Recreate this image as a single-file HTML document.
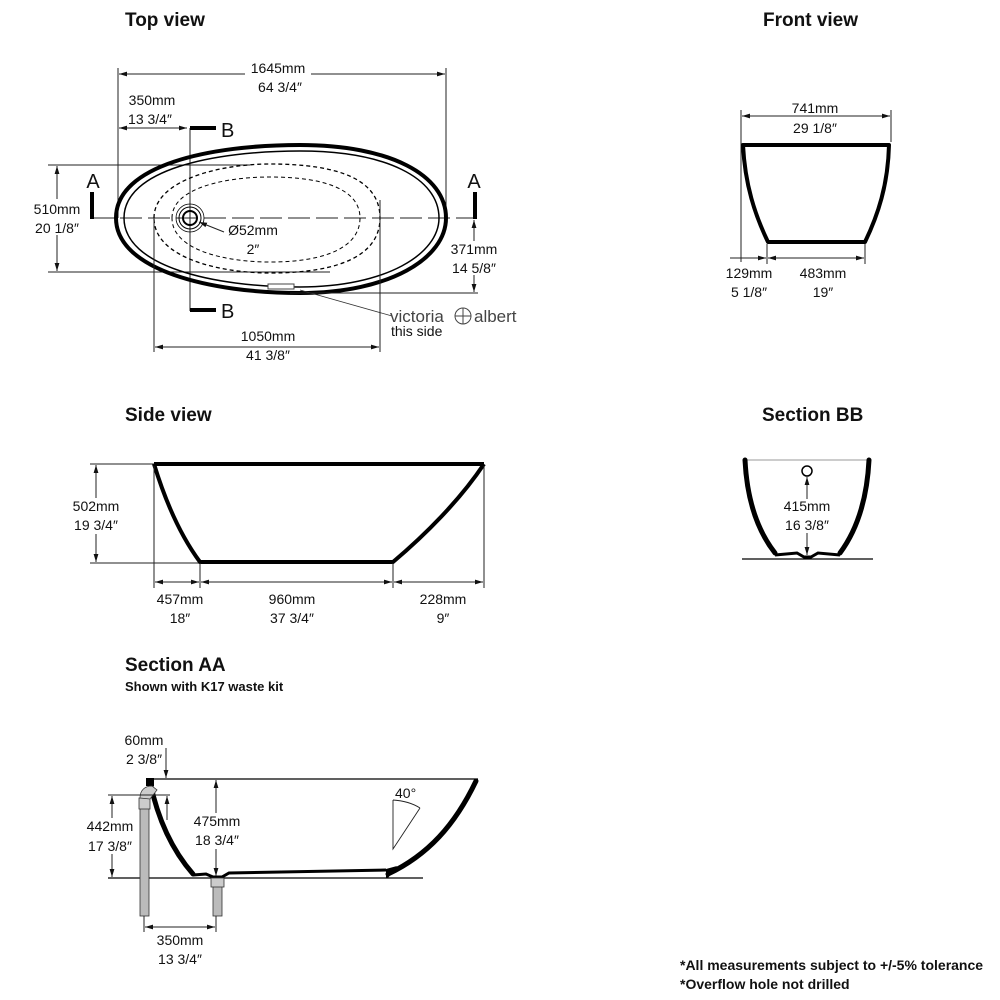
<!DOCTYPE html>
<html><head><meta charset="utf-8"><style>
html,body{margin:0;padding:0;background:#fff}
svg{display:block}
text{font-family:"Liberation Sans Narrow","Liberation Sans",sans-serif;font-size:14px;fill:#111}
.t{font-weight:bold;font-size:19px}
.c{text-anchor:middle}
.d{stroke:#222;stroke-width:1;fill:none}
.k{stroke:#000;stroke-width:4;fill:none}
.bg{fill:#fff}
</style></head><body>
<svg width="1000" height="1000" viewBox="0 0 1000 1000" xmlns="http://www.w3.org/2000/svg">
<defs>
<marker id="a" viewBox="0 0 10 10" refX="10" refY="5" markerWidth="8" markerHeight="8" orient="auto-start-reverse"><path d="M0,2 L10,5 L0,8z" fill="#111"/></marker>
</defs>

<!-- TOP VIEW -->
<text class="t" x="125" y="26">Top view</text>
<line class="d" x1="118" y1="68" x2="118" y2="218"/>
<line class="d" x1="446" y1="68" x2="446" y2="218"/>
<line class="d" x1="119" y1="74" x2="445" y2="74" marker-start="url(#a)" marker-end="url(#a)"/>
<rect class="bg" x="245" y="62" width="66" height="16"/>
<text class="c" x="278" y="73">1645mm</text>
<text class="c" x="280" y="92">64 3/4″</text>
<text class="c" x="152" y="105">350mm</text>
<text class="c" x="150" y="124">13 3/4″</text>
<line class="d" x1="119" y1="128" x2="187" y2="128" marker-start="url(#a)" marker-end="url(#a)"/>
<line class="d" x1="190" y1="128" x2="190" y2="311"/>
<line x1="190" y1="128" x2="216" y2="128" stroke="#000" stroke-width="4"/>
<line x1="190" y1="310" x2="216" y2="310" stroke="#000" stroke-width="4"/>
<text x="221" y="137" style="font-size:20px">B</text>
<text x="221" y="318" style="font-size:20px">B</text>
<line class="d" x1="48" y1="165" x2="250" y2="165"/>
<line class="d" x1="48" y1="272" x2="330" y2="272"/>
<line class="d" x1="57" y1="166" x2="57" y2="271" marker-start="url(#a)" marker-end="url(#a)"/>
<rect class="bg" x="28" y="199" width="58" height="36"/>
<text class="c" x="57" y="214">510mm</text>
<text class="c" x="57" y="233">20 1/8″</text>
<line class="d" x1="92" y1="218" x2="476" y2="218" stroke-dasharray="22,6"/>
<line x1="92" y1="192" x2="92" y2="219" stroke="#000" stroke-width="4"/>
<line x1="475" y1="192" x2="475" y2="219" stroke="#000" stroke-width="4"/>
<text class="c" x="93" y="188" style="font-size:20px">A</text>
<text class="c" x="474" y="188" style="font-size:20px">A</text>
<path class="k" d="M116,218 C116,165 210,145 300,145 C390,145 446,175 446,218 C446,258 390,293 300,293 C210,293 116,270 116,218Z" stroke-width="3"/>
<path d="M124,218 C124,170 212,151 300,151 C386,151 439,178 439,218 C439,254 386,287 300,287 C212,287 124,266 124,218Z" fill="none" stroke="#000" stroke-width="1.5"/>
<path d="M154,218 C154,180 220,164 270,164 C340,164 380,180 380,218 C380,255 340,273 270,273 C220,273 154,258 154,218Z" fill="none" stroke="#000" stroke-width="1.3" stroke-dasharray="4,3"/>
<path d="M172,218 C172,188 225,177 270,177 C330,177 360,192 360,218 C360,245 330,262 270,262 C225,262 172,250 172,218Z" fill="none" stroke="#000" stroke-width="1" stroke-dasharray="4,3"/>
<circle cx="190" cy="218" r="7" fill="none" stroke="#000" stroke-width="2"/>
<circle cx="190" cy="218" r="11" fill="none" stroke="#000" stroke-width="1"/>
<circle cx="190" cy="218" r="14" fill="none" stroke="#000" stroke-width="0.8"/>
<line class="d" x1="224" y1="232" x2="199" y2="222" marker-end="url(#a)"/>
<text class="c" x="253" y="235">Ø52mm</text>
<text class="c" x="253" y="254">2″</text>
<rect x="268" y="284" width="26" height="5" fill="#fff" stroke="#444" stroke-width="1"/>
<line class="d" x1="290" y1="293" x2="478" y2="293"/>
<line class="d" x1="474" y1="220" x2="474" y2="292" marker-start="url(#a)" marker-end="url(#a)"/>
<rect class="bg" x="448" y="241" width="54" height="34"/>
<text class="c" x="474" y="254">371mm</text>
<text class="c" x="474" y="273">14 5/8″</text>
<line x1="300" y1="290" x2="392" y2="316" stroke="#333" stroke-width="0.8"/>
<text x="390" y="322" style="font-size:17px;fill:#444">victoria</text>
<circle cx="463" cy="316" r="8" fill="none" stroke="#444" stroke-width="1"/>
<line x1="455" y1="316" x2="471" y2="316" stroke="#444"/><line x1="463" y1="308" x2="463" y2="324" stroke="#444"/>
<text x="474" y="322" style="font-size:17px;fill:#444">albert</text>
<text x="391" y="336">this side</text>
<line class="d" x1="154" y1="218" x2="154" y2="352"/>
<line class="d" x1="380" y1="200" x2="380" y2="352"/>
<line class="d" x1="155" y1="347" x2="379" y2="347" marker-start="url(#a)" marker-end="url(#a)"/>
<rect class="bg" x="234" y="328" width="68" height="14"/>
<text class="c" x="268" y="341">1050mm</text>
<text class="c" x="268" y="360">41 3/8″</text>

<!-- FRONT VIEW -->
<text class="t" x="763" y="26">Front view</text>
<line class="d" x1="741" y1="110" x2="741" y2="262"/>
<line class="d" x1="891" y1="110" x2="891" y2="142"/>
<line class="d" x1="742" y1="116" x2="890" y2="116" marker-start="url(#a)" marker-end="url(#a)"/>
<rect class="bg" x="785" y="100" width="60" height="14"/>
<text class="c" x="815" y="113">741mm</text>
<text class="c" x="815" y="133">29 1/8″</text>
<path class="k" stroke-width="3" stroke-linejoin="round" d="M743,145 L889,145 C888,185 878,215 865,242 L768,242 C755,215 745,185 743,145Z"/>
<line class="d" x1="767" y1="244" x2="767" y2="264"/>
<line class="d" x1="865" y1="244" x2="865" y2="264"/>
<line class="d" x1="730" y1="258" x2="766" y2="258" marker-end="url(#a)"/>
<line class="d" x1="768" y1="258" x2="864" y2="258" marker-start="url(#a)" marker-end="url(#a)"/>
<text class="c" x="749" y="278">129mm</text>
<text class="c" x="749" y="297">5 1/8″</text>
<text class="c" x="823" y="278">483mm</text>
<text class="c" x="823" y="297">19″</text>

<!-- SIDE VIEW -->
<text class="t" x="125" y="421">Side view</text>
<line class="d" x1="90" y1="464" x2="154" y2="464"/>
<line class="d" x1="90" y1="563" x2="200" y2="563"/>
<line class="d" x1="96" y1="465" x2="96" y2="562" marker-start="url(#a)" marker-end="url(#a)"/>
<rect class="bg" x="70" y="498" width="54" height="36"/>
<text class="c" x="96" y="511">502mm</text>
<text class="c" x="96" y="530">19 3/4″</text>
<path class="k" stroke-width="3" d="M154,464 L484,464 M154,464 C165,500 180,535 200,562 L393,562 C425,535 460,500 484,464"/>
<line class="d" x1="154" y1="466" x2="154" y2="588"/>
<line class="d" x1="200" y1="563" x2="200" y2="588"/>
<line class="d" x1="393" y1="563" x2="393" y2="588"/>
<line class="d" x1="484" y1="466" x2="484" y2="588"/>
<line class="d" x1="155" y1="582" x2="199" y2="582" marker-start="url(#a)" marker-end="url(#a)"/>
<line class="d" x1="201" y1="582" x2="392" y2="582" marker-start="url(#a)" marker-end="url(#a)"/>
<line class="d" x1="394" y1="582" x2="483" y2="582" marker-start="url(#a)" marker-end="url(#a)"/>
<text class="c" x="180" y="604">457mm</text>
<text class="c" x="180" y="623">18″</text>
<text class="c" x="292" y="604">960mm</text>
<text class="c" x="292" y="623">37 3/4″</text>
<text class="c" x="443" y="604">228mm</text>
<text class="c" x="443" y="623">9″</text>

<!-- SECTION BB -->
<text class="t" x="762" y="421">Section BB</text>
<line x1="745" y1="460" x2="869" y2="460" stroke="#999" stroke-width="1"/>
<path d="M745,460 C747,500 757,530 775,553" fill="none" stroke="#000" stroke-width="5" stroke-linecap="round"/>
<path d="M869,460 C867,500 857,530 840,553" fill="none" stroke="#000" stroke-width="5" stroke-linecap="round"/>
<path d="M775,555 L797,553 L804,557 L811,557 L818,553 L840,555" fill="none" stroke="#000" stroke-width="3"/>
<line x1="742" y1="559" x2="873" y2="559" stroke="#000" stroke-width="1.2"/>
<circle cx="807" cy="471" r="5" fill="#fff" stroke="#000" stroke-width="1.5"/>
<line class="d" x1="807" y1="477" x2="807" y2="555" marker-start="url(#a)" marker-end="url(#a)"/>
<rect class="bg" x="780" y="499" width="54" height="34"/>
<text class="c" x="807" y="511">415mm</text>
<text class="c" x="807" y="530">16 3/8″</text>

<!-- SECTION AA -->
<text class="t" x="125" y="671">Section AA</text>
<text x="125" y="691" style="font-weight:bold;font-size:13px">Shown with K17 waste kit</text>
<line x1="148" y1="779" x2="478" y2="779" stroke="#000" stroke-width="1.2"/>
<line x1="108" y1="878" x2="423" y2="878" stroke="#000" stroke-width="1.2"/>
<path d="M150,782 C158,820 172,850 193,874" fill="none" stroke="#000" stroke-width="5" stroke-linecap="round"/>
<path d="M193,875 L206,874 L213,877 L222,877 L229,873 L386,870" fill="none" stroke="#000" stroke-width="3"/>
<path d="M476,781 C455,825 428,855 388,874" fill="none" stroke="#000" stroke-width="5" stroke-linecap="round"/>
<path d="M386,869 L397,866 L388,878 L386,878Z" fill="#000"/>
<rect x="146" y="778" width="8" height="8" fill="#000"/>
<rect x="140" y="808" width="9" height="108" fill="#bbb" stroke="#333" stroke-width="0.8"/>
<rect x="139" y="798" width="11" height="11" fill="#ccc" stroke="#333" stroke-width="0.8"/>
<path d="M140,798 C140,790 145,786 152,786 L157,790 L150,799Z" fill="#ccc" stroke="#333" stroke-width="0.8"/>
<rect x="213" y="886" width="9" height="30" fill="#bbb" stroke="#333" stroke-width="0.8"/>
<rect x="211" y="878" width="13" height="9" fill="#ccc" stroke="#333" stroke-width="0.8"/>
<line class="d" x1="108" y1="795" x2="170" y2="795"/>
<line class="d" x1="112" y1="796" x2="112" y2="877" marker-start="url(#a)" marker-end="url(#a)"/>
<rect class="bg" x="84" y="818" width="54" height="36"/>
<text class="c" x="110" y="831">442mm</text>
<text class="c" x="110" y="851">17 3/8″</text>
<line class="d" x1="167" y1="820" x2="167" y2="796" marker-end="url(#a)"/>
<line class="d" x1="166" y1="748" x2="166" y2="778" marker-end="url(#a)"/>
<text class="c" x="144" y="745">60mm</text>
<text class="c" x="144" y="764">2 3/8″</text>
<line class="d" x1="216" y1="780" x2="216" y2="876" marker-start="url(#a)" marker-end="url(#a)"/>
<rect class="bg" x="188" y="813" width="58" height="36"/>
<text class="c" x="217" y="826">475mm</text>
<text class="c" x="217" y="845">18 3/4″</text>
<line class="d" x1="144" y1="916" x2="144" y2="932"/>
<line class="d" x1="216" y1="916" x2="216" y2="932"/>
<line class="d" x1="145" y1="927" x2="215" y2="927" marker-start="url(#a)" marker-end="url(#a)"/>
<text class="c" x="180" y="945">350mm</text>
<text class="c" x="180" y="964">13 3/4″</text>
<text x="395" y="798">40°</text>
<path d="M393,800 L393,849 L420,808 M393,800 Q409,801 420,808" fill="none" stroke="#222" stroke-width="0.9"/>

<text x="680" y="970" style="font-weight:bold;font-size:14px">*All measurements subject to +/-5% tolerance</text>
<text x="680" y="989" style="font-weight:bold;font-size:14px">*Overflow hole not drilled</text>
</svg>
</body></html>
